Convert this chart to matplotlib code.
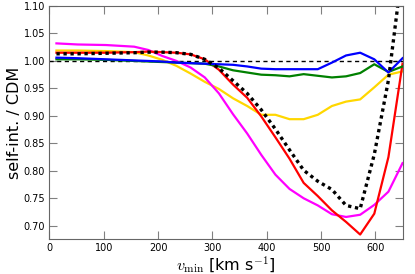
import numpy as np
import matplotlib
matplotlib.use('Agg')
import matplotlib.pyplot as plt

plt.rcParams['mathtext.fontset'] = 'cm'

# v_min grid (km/s)
vmin = [13, 52, 104, 156, 182, 208, 234, 260, 286, 312, 338, 364, 390,
        416, 442, 468, 494, 520, 546, 572, 598, 624, 650]

# ratio self-interacting / CDM for each model
ratio_black = [1.013, 1.013, 1.014, 1.015, 1.016, 1.016, 1.015, 1.012, 1.003, 0.987, 0.964, 0.941, 0.911,
               0.876, 0.838, 0.801, 0.781, 0.766, 0.737, 0.731, 0.830, 0.965, 1.170]
ratio_red = [1.015, 1.015, 1.015, 1.016, 1.017, 1.016, 1.015, 1.012, 1.003, 0.984, 0.957, 0.933, 0.899,
             0.861, 0.822, 0.778, 0.754, 0.728, 0.707, 0.684, 0.722, 0.825, 0.995]
ratio_magenta = [1.032, 1.030, 1.029, 1.026, 1.020, 1.009, 1.000, 0.988, 0.970, 0.941, 0.903, 0.868, 0.829,
                 0.793, 0.767, 0.750, 0.737, 0.721, 0.716, 0.720, 0.738, 0.762, 0.814]
ratio_gold = [1.019, 1.019, 1.018, 1.016, 1.010, 1.002, 0.991, 0.977, 0.962, 0.949, 0.932, 0.918, 0.902,
              0.902, 0.894, 0.894, 0.902, 0.918, 0.926, 0.930, 0.952, 0.975, 0.981]
ratio_green = [1.003, 1.003, 1.002, 1.000, 0.999, 0.998, 0.997, 0.996, 0.995, 0.990, 0.983, 0.979, 0.975,
               0.974, 0.972, 0.976, 0.973, 0.970, 0.972, 0.978, 0.994, 0.980, 0.990]
ratio_blue = [1.006, 1.005, 1.003, 1.001, 1.000, 0.999, 0.997, 0.996, 0.995, 0.994, 0.993, 0.990, 0.986,
              0.985, 0.985, 0.985, 0.985, 0.997, 1.010, 1.015, 1.003, 0.979, 1.005]

xticks = [0, 100, 200, 300, 400, 500, 600]
yticks = [0.70, 0.75, 0.80, 0.85, 0.90, 0.95, 1.00, 1.05, 1.10]

fig = plt.figure(figsize=(4.15, 2.74), dpi=100)
ax = fig.add_axes([0.119, 0.128, 0.851, 0.850])

ax.axhline(1.0, color='k', ls='--', lw=1.0, dashes=(3, 2.5))
ax.plot(vmin, ratio_gold, color='#ffd700', lw=1.6)
ax.plot(vmin, ratio_magenta, color='#ff00ff', lw=1.6)
ax.plot(vmin, ratio_red, color='#ff0000', lw=1.6)
ax.plot(vmin, ratio_green, color='#008000', lw=1.6)
ax.plot(vmin, ratio_blue, color='#0000ff', lw=1.6)
ax.plot(vmin, ratio_black, color='k', lw=2.4, ls=(0, (1.0, 1.1)))

ax.set_xlim(0, 650)
ax.set_ylim(0.676, 1.10)
ax.set_xticks(xticks)
ax.set_yticks(yticks)
ax.set_yticklabels(['%.2f' % t for t in yticks])
ax.tick_params(direction='in', length=5.5, width=0.8, color='0.5',
               labelsize=7, top=True, right=True, pad=3)
for sp in ax.spines.values():
    sp.set_color('0.4')

ax.set_xlabel(r'$v_{\rm min}$ [km s$^{-1}$]', fontsize=11.5, labelpad=1)
ax.set_ylabel('self-int. / CDM', fontsize=11.5, labelpad=1)

fig.savefig('out.png', dpi=100)
